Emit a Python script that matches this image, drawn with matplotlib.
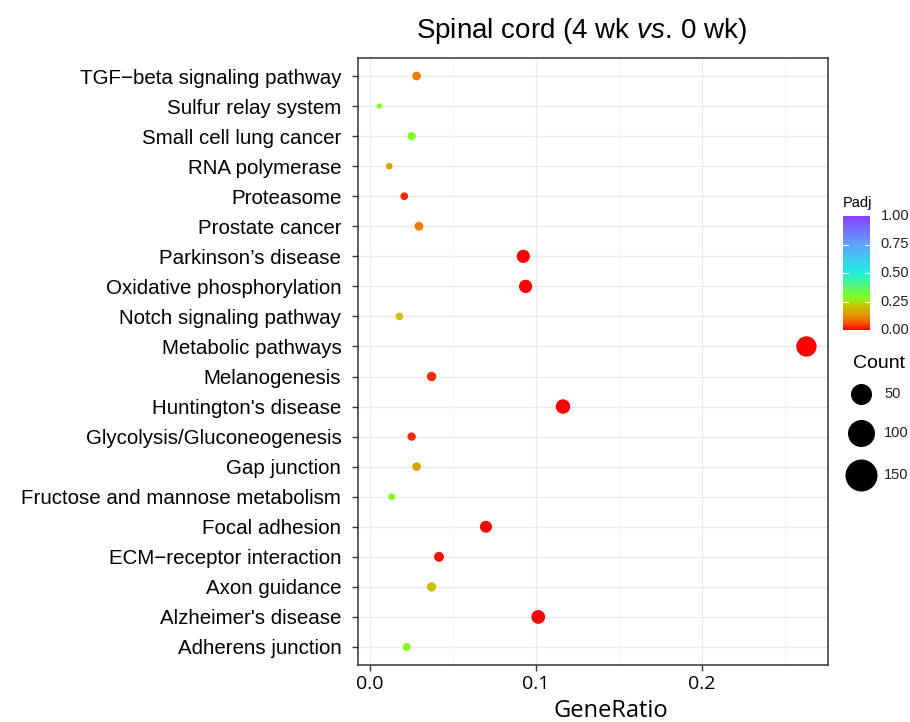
import numpy as np
import matplotlib
matplotlib.use("Agg")
import matplotlib.pyplot as plt
from matplotlib.colors import LinearSegmentedColormap, Normalize
from matplotlib.ticker import MultipleLocator

plt.rcParams["mathtext.fontset"] = "custom"
plt.rcParams["mathtext.it"] = "Liberation Sans:italic"
plt.rcParams["mathtext.rm"] = "Liberation Sans"

# KEGG pathways, top to bottom as in the figure
pathways = [
    "TGF\u2212beta signaling pathway", "Sulfur relay system", "Small cell lung cancer",
    "RNA polymerase", "Proteasome", "Prostate cancer", "Parkinson\u2019s disease",
    "Oxidative phosphorylation", "Notch signaling pathway", "Metabolic pathways",
    "Melanogenesis", "Huntington's disease", "Glycolysis/Gluconeogenesis",
    "Gap junction", "Fructose and mannose metabolism", "Focal adhesion",
    "ECM\u2212receptor interaction", "Axon guidance", "Alzheimer's disease",
    "Adherens junction",
]
gene_ratio = [0.0281, 0.0056, 0.0251, 0.0116, 0.0207, 0.0295, 0.0924, 0.0938, 0.0177, 0.2630,
              0.0371, 0.1163, 0.0251, 0.0281, 0.0131, 0.0699, 0.0416, 0.0371, 0.1014, 0.0221]
counts = [17, 3, 15, 7, 12, 18, 55, 56, 11, 158,
          22, 70, 15, 17, 8, 42, 25, 22, 61, 13]
padj = [0.10, 0.28, 0.28, 0.15, 0.03, 0.10, 0.0, 0.0, 0.20, 0.0,
        0.03, 0.0, 0.03, 0.15, 0.28, 0.0, 0.01, 0.20, 0.0, 0.28]
legend_counts = [50, 100, 150]
padj_ticks = [0.0, 0.25, 0.5, 0.75, 1.0]

cmap = LinearSegmentedColormap.from_list("padj", [
    (0.0, "#FF0000"), (0.05, "#F84A00"), (0.10, "#E88000"), (0.15, "#DDA000"),
    (0.20, "#CCC000"), (0.28, "#80FF20"), (0.50, "#20F0E0"), (0.75, "#60A0FF"),
    (1.0, "#8A3CFF")])
norm = Normalize(0, 1)

dpi = 100
fig = plt.figure(figsize=(9.1, 7.22), dpi=dpi)
ax = fig.add_axes([358 / 910, 1 - 665 / 722, 470 / 910, 607 / 722])

ypos = np.arange(len(pathways))[::-1]
diam_px = 3.0 + 1.38 * np.sqrt(np.array(counts))
sizes = (diam_px * 72 / dpi) ** 2
ax.scatter(gene_ratio, ypos, s=sizes, c=cmap(norm(np.array(padj))), linewidths=0, zorder=3)

ax.set_xlim(-0.0072, 0.276)
ax.set_ylim(-0.6, len(pathways) - 0.4)
ax.xaxis.set_minor_locator(MultipleLocator(0.05))
ax.set_yticks(ypos)
ax.set_yticklabels(pathways, fontsize=14.8, family="Liberation Sans", color="black")
ax.set_xticks([0.0, 0.1, 0.2])
ax.set_xticklabels(["0.0", "0.1", "0.2"], fontsize=14, family="Open Sans", color="black")
ax.grid(True, which="major", color="#ebebeb", lw=1.0, zorder=0)
ax.grid(True, which="minor", axis="x", color="#f2f2f2", lw=0.6, zorder=0)
ax.set_axisbelow(True)
for sp in ax.spines.values():
    sp.set_color("#333333")
    sp.set_linewidth(1.1)
ax.tick_params(axis="y", which="major", length=4, color="#333333", width=1, pad=8)
ax.tick_params(axis="x", which="major", length=4, color="#333333", width=1, pad=3)
ax.tick_params(which="minor", length=0)

fig.text(611 / 910, 1 - 711 / 722, "GeneRatio", fontsize=17, family="Open Sans",
         ha="center", va="center")
fig.text(582 / 910, 1 - 31 / 722, r"Spinal cord (4 wk $\mathit{vs.}\,$0 wk)", fontsize=20,
         family="Liberation Sans", ha="center", va="center")

# colour bar
cax = fig.add_axes([843 / 910, 1 - 330 / 722, 27 / 910, 114 / 722])
grad = np.linspace(0, 1, 256).reshape(-1, 1)
cax.imshow(grad, aspect="auto", cmap=cmap, origin="lower", extent=[0, 1, 0, 1])
for t in padj_ticks[1:-1]:
    cax.plot([0, 0.2], [t, t], color="white", lw=0.8)
    cax.plot([0.8, 1], [t, t], color="white", lw=0.8)
cax.set_xlim(0, 1)
cax.set_ylim(0, 1)
cax.set_xticks([])
cax.set_yticks([])
for sp in cax.spines.values():
    sp.set_visible(False)
for t in padj_ticks:
    cax.text(1.4, t, f"{t:.2f}", fontsize=10.5, color="#222222", va="center", ha="left",
             transform=cax.transAxes, family="Liberation Sans", clip_on=False)
fig.text(843 / 910, 1 - 203 / 722, "Padj", fontsize=10.5, family="Liberation Sans", va="center")

# size legend
lax = fig.add_axes([0, 0, 1, 1], zorder=-1)
lax.set_xlim(0, 910)
lax.set_ylim(722, 0)
lax.axis("off")
lax.text(853, 363, "Count", fontsize=14, family="Liberation Sans", va="center")
leg_y = [394, 433, 475]
leg_d = [21, 27, 32]
for c, yy, d in zip(legend_counts, leg_y, leg_d):
    lax.plot([861], [yy], "o", color="black", markersize=d * 72 / dpi, mew=0)
    lax.text(884, yy, str(c), fontsize=10.5, family="Liberation Sans", va="center", color="#222222")

fig.savefig("out.png", dpi=dpi)
